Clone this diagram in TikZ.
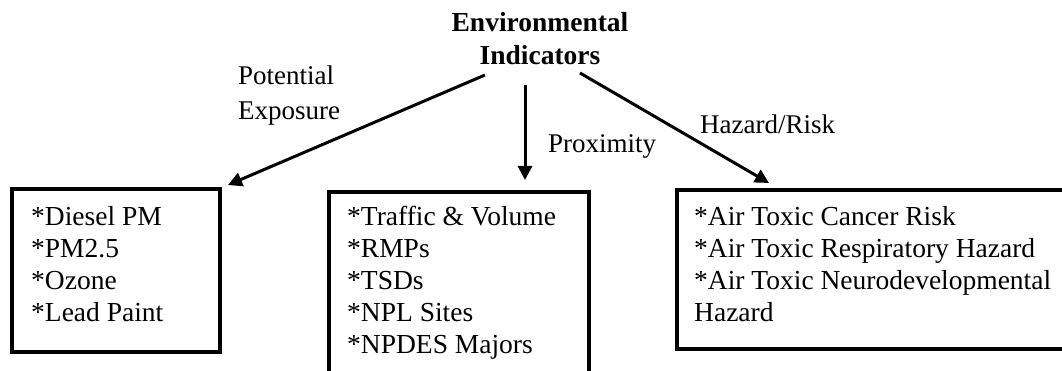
\documentclass[tikz,border=0pt]{standalone}
\usepackage{fontspec}
\setmainfont{Liberation Serif}
\usetikzlibrary{arrows.meta}
\begin{document}
\begin{tikzpicture}[x=1pt,y=-1pt,
  box/.style={draw=black,line width=4pt,fill=none,inner sep=0pt,anchor=north west},
  txt/.style={anchor=north west,align=left,inner sep=0pt,font=\fontsize{27.5}{32}\selectfont},
  lbl/.style={anchor=north west,align=left,inner sep=0pt,font=\fontsize{27}{35}\selectfont},
  arr/.style={line width=3pt,-{Triangle[length=14pt,width=14pt]}}]
\useasboundingbox (0,0) rectangle (1062,371);
\begin{scope}
\clip (0,0) rectangle (1062,371);
\node[box,minimum width=208pt,minimum height=163pt] (L) at (10,187) {};
\node[box,minimum width=260pt,minimum height=200pt] (M) at (327,190) {};
\node[box,minimum width=400pt,minimum height=159pt] (R) at (675,188) {};
\end{scope}
\node[txt] (Lt) at (31,206) {*Diesel PM\\*PM2.5\\*Ozone\\*Lead Paint};
\node[txt] (Mt) at (347,206) {*Traffic \& Volume\\*RMPs\\*TSDs\\*NPL Sites\\*NPDES Majors};
\node[txt] (Rt) at (694,206) {*Air Toxic Cancer Risk\\*Air Toxic Respiratory Hazard\\*Air Toxic Neurodevelopmental\\Hazard};
\node[anchor=north,align=center,inner sep=0pt,font=\fontsize{27.5}{33}\selectfont\bfseries] (T) at (540,12) {Environmental\\Indicators};
\coordinate (a1) at (485,75); \coordinate (t1) at (228,185);
\coordinate (a2) at (525,85); \coordinate (t2) at (525,180);
\coordinate (a3) at (580,73); \coordinate (t3) at (769,183);
\draw[arr] (a1) -- (t1);
\draw[arr] (a2) -- (t2);
\draw[arr] (a3) -- (t3);
\node[lbl] (pe) at (238,66) {Potential\\Exposure};
\node[lbl] (px) at (548,134) {Proximity};
\node[lbl] (hr) at (700,115) {Hazard/Risk};
\end{tikzpicture}
\end{document}
